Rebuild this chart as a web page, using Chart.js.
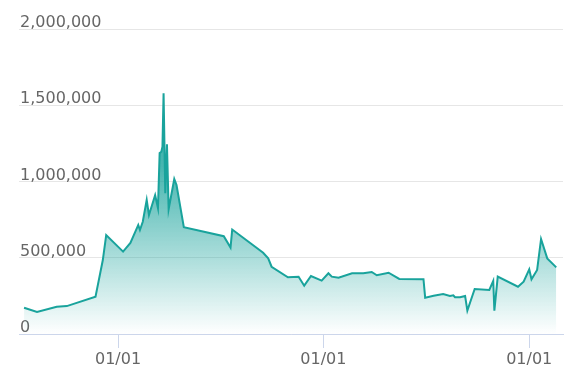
<!DOCTYPE html>
<html>
<head>
<meta charset="utf-8">
<script src="https://cdn.jsdelivr.net/npm/chart.js@4/dist/chart.umd.min.js"></script>
<style>
  body { margin: 0; background: #fff; }
</style>
</head>
<body>
<canvas id="chart" width="574" height="388"></canvas>
<script>
const dates = [
    '2018-07-18', '2018-08-10', '2018-09-14', '2018-10-02', '2018-11-22', '2018-12-05', '2018-12-11',
    '2019-01-10', '2019-01-23', '2019-02-06', '2019-02-09', '2019-02-14', '2019-02-21', '2019-02-25',
    '2019-03-08', '2019-03-13', '2019-03-16', '2019-03-19', '2019-03-21', '2019-03-23', '2019-03-26',
    '2019-03-29', '2019-04-01', '2019-04-11', '2019-04-15', '2019-04-28', '2019-07-08', '2019-07-20',
    '2019-07-23', '2019-09-16', '2019-09-25', '2019-10-01', '2019-10-30', '2019-11-18', '2019-11-28',
    '2019-12-10', '2019-12-29', '2020-01-10', '2020-01-16', '2020-01-28', '2020-02-21', '2020-03-12',
    '2020-03-27', '2020-04-05', '2020-04-26', '2020-05-15', '2020-06-27', '2020-06-30', '2020-07-15',
    '2020-08-01', '2020-08-13', '2020-08-19', '2020-08-22', '2020-08-31', '2020-09-09', '2020-09-13',
    '2020-09-26', '2020-10-22', '2020-10-29', '2020-10-31', '2020-11-06', '2020-12-12', '2020-12-22',
    '2021-01-01', '2021-01-05', '2021-01-15', '2021-01-22', '2021-02-02', '2021-02-18'
];
const values = [
    172000, 144000, 179000, 183000, 245000, 485000, 649000,
    540000, 597000, 715000, 682000, 736000, 879000, 780000,
    911000, 826000, 1187000, 1195000, 1228000, 1578000, 923000,
    1244000, 818000, 1016000, 977000, 700000, 641000, 567000,
    685000, 533000, 496000, 441000, 372000, 376000, 317000,
    380000, 350000, 398000, 376000, 369000, 398000, 398000,
    407000, 385000, 402000, 361000, 359000, 238000, 251000,
    262000, 249000, 254000, 241000, 241000, 249000, 153000,
    295000, 289000, 348000, 153000, 376000, 310000, 343000,
    424000, 359000, 420000, 623000, 496000, 437000
];
const yearTicks = ['2019-01-01', '2020-01-01', '2021-01-01'];
const xRange = ['2018-07-09', '2021-03-02'];

const points = dates.map((d, i) => ({ x: Date.parse(d), y: values[i] }));
const teal = '#19a39c';

new Chart(document.getElementById('chart'), {
    type: 'line',
    data: {
        datasets: [{
            data: points,
            borderColor: teal,
            borderWidth: 2,
            pointRadius: 0,
            tension: 0,
            fill: 'origin',
            backgroundColor: (c) => {
                const area = c.chart.chartArea;
                if (!area) return 'rgba(25,163,156,0.3)';
                // fade to white toward the x axis
                const g = c.chart.ctx.createLinearGradient(0, area.top, 0, area.bottom);
                g.addColorStop(0, 'rgba(25,163,156,0.95)');
                g.addColorStop(0.45, 'rgba(25,163,156,0.8)');
                g.addColorStop(1, 'rgba(25,163,156,0)');
                return g;
            }
        }]
    },
    options: {
        responsive: false,
        animation: false,
        layout: { padding: { left: 19, right: 11, top: 29, bottom: 0 } },
        plugins: { legend: { display: false }, tooltip: { enabled: false } },
        scales: {
            x: {
                type: 'linear',
                min: Date.parse(xRange[0]),
                max: Date.parse(xRange[1]),
                afterBuildTicks: (s) => { s.ticks = yearTicks.map(d => ({ value: Date.parse(d) })); },
                afterFit: (s) => { s.height = 54; },
                border: { color: '#ccd6eb', width: 1 },
                grid: { drawOnChartArea: false, drawTicks: true, tickLength: 14, color: '#ccd6eb' },
                ticks: {
                    maxRotation: 0,
                    autoSkip: false,
                    padding: 2,
                    color: '#666666',
                    font: { family: 'DejaVu Sans', size: 16 },
                    callback: () => '01/01'
                }
            },
            y: {
                min: 0,
                max: 2000000,
                afterFit: (s) => { s.width = 0; },
                border: { display: false },
                grid: { color: '#e6e6e6', drawTicks: false },
                ticks: {
                    stepSize: 500000,
                    mirror: true,
                    padding: 1,
                    labelOffset: -6,
                    color: '#666666',
                    font: { family: 'DejaVu Sans', size: 16 },
                    callback: (v) => v.toLocaleString('en-US')
                }
            }
        }
    }
});
</script>
</body>
</html>
